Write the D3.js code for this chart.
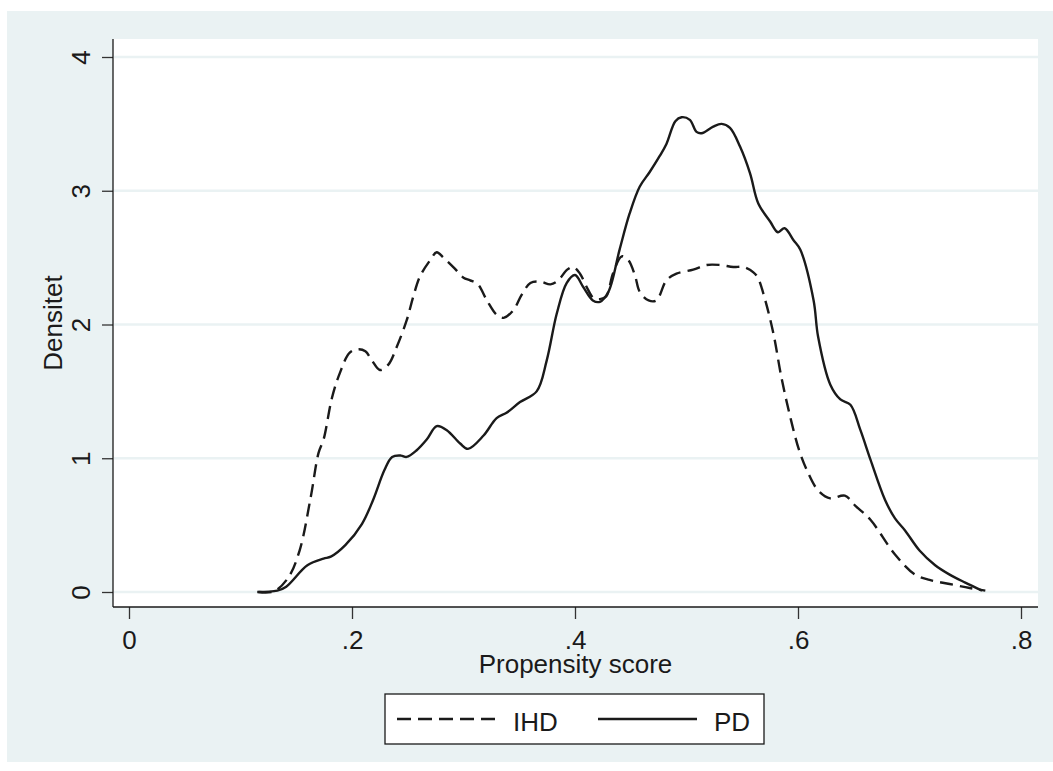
<!DOCTYPE html>
<html>
<head>
<meta charset="utf-8">
<script src="https://cdn.jsdelivr.net/npm/d3@7"></script>
<style>
  body { margin: 0; background: #fff; }
  svg { display: block; font-family: "Liberation Sans", Arial, sans-serif; }
</style>
</head>
<body>
<svg id="chart" width="1053" height="771"></svg>
<script>
// kernel density of propensity score
var ihdX = [0.116, 0.13, 0.143, 0.153, 0.163, 0.170, 0.1745, 0.182, 0.189, 0.198, 0.2057, 0.212, 0.218, 0.225, 0.2326, 0.240, 0.249, 0.255, 0.261, 0.270, 0.276, 0.282, 0.292, 0.300, 0.306, 0.313, 0.321, 0.330, 0.336, 0.345, 0.352, 0.360, 0.369, 0.378, 0.385, 0.393, 0.3985, 0.4045, 0.4105, 0.4164, 0.4224, 0.428, 0.434, 0.442, 0.448, 0.454, 0.458, 0.466, 0.473, 0.482, 0.491, 0.506, 0.518, 0.530, 0.542, 0.551, 0.560, 0.564, 0.570, 0.578, 0.585, 0.593, 0.601, 0.608, 0.618, 0.629, 0.642, 0.652, 0.665, 0.687, 0.705, 0.718, 0.736, 0.754, 0.768]
var ihdY = [0, 0.005, 0.11, 0.31, 0.71, 1.04, 1.14, 1.45, 1.635, 1.79, 1.815, 1.80, 1.73, 1.66, 1.70, 1.83, 2.03, 2.21, 2.36, 2.48, 2.54, 2.50, 2.42, 2.35, 2.33, 2.30, 2.18, 2.07, 2.05, 2.11, 2.22, 2.31, 2.32, 2.30, 2.33, 2.41, 2.43, 2.38, 2.28, 2.20, 2.19, 2.21, 2.38, 2.51, 2.48, 2.36, 2.245, 2.18, 2.18, 2.33, 2.38, 2.41, 2.445, 2.445, 2.43, 2.43, 2.39, 2.35, 2.20, 1.93, 1.61, 1.31, 1.06, 0.91, 0.76, 0.70, 0.72, 0.64, 0.54, 0.28, 0.13, 0.09, 0.06, 0.03, 0.01]
var pdX = [0.115, 0.133, 0.141, 0.160, 0.1745, 0.181, 0.194, 0.209, 0.219, 0.229, 0.236, 0.244, 0.249, 0.258, 0.267, 0.276, 0.285, 0.297, 0.304, 0.318, 0.3297, 0.3386, 0.3507, 0.3656, 0.3746, 0.3836, 0.3925, 0.400, 0.4074, 0.416, 0.4224, 0.430, 0.440, 0.449, 0.458, 0.467, 0.476, 0.482, 0.490, 0.4956, 0.503, 0.509, 0.5135, 0.524, 0.5315, 0.539, 0.548, 0.557, 0.5644, 0.575, 0.582, 0.588, 0.596, 0.602, 0.614, 0.618, 0.629, 0.638, 0.647, 0.656, 0.665, 0.678, 0.687, 0.696, 0.709, 0.723, 0.736, 0.750, 0.765]
var pdY = [0, 0.01, 0.04, 0.20, 0.25, 0.264, 0.35, 0.51, 0.69, 0.91, 1.01, 1.02, 1.01, 1.06, 1.14, 1.24, 1.21, 1.11, 1.07, 1.17, 1.30, 1.34, 1.42, 1.50, 1.73, 2.08, 2.31, 2.37, 2.28, 2.18, 2.17, 2.245, 2.56, 2.83, 3.03, 3.14, 3.26, 3.35, 3.52, 3.55, 3.53, 3.44, 3.43, 3.48, 3.50, 3.47, 3.33, 3.13, 2.905, 2.77, 2.69, 2.72, 2.63, 2.56, 2.18, 1.91, 1.55, 1.44, 1.40, 1.21, 0.99, 0.69, 0.55, 0.46, 0.31, 0.20, 0.13, 0.07, 0.01]

var xTicks = [0, 0.2, 0.4, 0.6, 0.8]
var yTicks = [0, 1, 2, 3, 4]
var seriesNames = ["IHD", "PD"]

var bg = "#eaf2f3",
    ink = "#1a1a1a",
    plot = {left: 113, right: 1038, top: 39, bottom: 607}

var svg = d3.select("#chart")

// outer graph region
svg.append("rect")
    .attr("x", 7).attr("y", 11)
    .attr("width", 1046).attr("height", 751)
    .attr("fill", bg)

svg.append("rect")
    .attr("x", plot.left).attr("y", plot.top)
    .attr("width", plot.right - plot.left).attr("height", plot.bottom - plot.top)
    .attr("fill", "#fff")

var x = d3.scaleLinear().domain([0, 0.8]).range([129, 1021])
var y = d3.scaleLinear().domain([0, 4]).range([592, 57])

// gridlines
svg.append("g")
    .selectAll("line")
    .data(yTicks)
    .join("line")
    .attr("x1", plot.left + 1).attr("x2", plot.right)
    .attr("y1", d => y(d)).attr("y2", d => y(d))
    .attr("stroke", bg)
    .attr("stroke-width", 2.5)

// Y axis
const yAxis = d3.axisLeft(y).tickValues(yTicks).tickSize(11).tickFormat(d3.format("d"))
const gY = svg.append("g")
    .attr("transform", "translate(" + plot.left + ",0)")
    .call(yAxis)
gY.select(".domain").remove()
gY.selectAll(".tick line").attr("stroke", "#333").attr("stroke-width", 1.3)
gY.selectAll(".tick text")
    .attr("x", null).attr("dy", null)
    .attr("transform", "translate(-23,0) rotate(-90)")
    .attr("text-anchor", "middle")
    .attr("font-size", 26)
    .attr("fill", ink)

// X axis
const xAxis = d3.axisBottom(x).tickValues(xTicks).tickSize(12)
    .tickFormat(d => d === 0 ? "0" : String(d).replace(/^0/, ""))
const gX = svg.append("g")
    .attr("transform", "translate(0," + plot.bottom + ")")
    .call(xAxis)
gX.select(".domain").remove()
gX.selectAll(".tick line").attr("stroke", "#333").attr("stroke-width", 1.3)
gX.selectAll(".tick text")
    .attr("y", 42).attr("dy", null)
    .attr("font-size", 26)
    .attr("fill", ink)

// axis lines
svg.append("line")
    .attr("x1", plot.left).attr("x2", plot.left)
    .attr("y1", plot.top).attr("y2", plot.bottom)
    .attr("stroke", ink).attr("stroke-width", 1.3)
svg.append("line")
    .attr("x1", plot.left).attr("x2", plot.right)
    .attr("y1", plot.bottom).attr("y2", plot.bottom)
    .attr("stroke", ink).attr("stroke-width", 1.3)

// axis titles
svg.append("text")
    .attr("transform", "translate(62," + (plot.top + plot.bottom) / 2 + ") rotate(-90)")
    .attr("text-anchor", "middle")
    .attr("font-size", 26)
    .attr("fill", ink)
    .text("Densitet")
svg.append("text")
    .attr("x", (plot.left + plot.right) / 2).attr("y", 673)
    .attr("text-anchor", "middle")
    .attr("font-size", 26)
    .attr("fill", ink)
    .text("Propensity score")

// density curves
const line = d3.line()
    .x(d => x(d[0]))
    .y(d => y(d[1]))
    .curve(d3.curveCatmullRom)

const series = [
    {name: seriesNames[0], pts: d3.zip(ihdX, ihdY), dash: "13,7"},
    {name: seriesNames[1], pts: d3.zip(pdX, pdY), dash: null}
]

svg.append("g")
    .selectAll("path")
    .data(series)
    .join("path")
    .attr("d", d => line(d.pts))
    .attr("fill", "none")
    .attr("stroke", ink)
    .attr("stroke-width", 2.4)
    .attr("stroke-dasharray", d => d.dash)
    .attr("stroke-linejoin", "round")

// legend
const lg = svg.append("g")
lg.append("rect")
    .attr("x", 385).attr("y", 694)
    .attr("width", 379).attr("height", 50)
    .attr("fill", "#fff")
    .attr("stroke", ink).attr("stroke-width", 1.3)

const legendItems = [
    {name: seriesNames[0], x1: 397, x2: 497, tx: 513, dash: "14,7"},
    {name: seriesNames[1], x1: 598, x2: 697, tx: 714, dash: null}
]
legendItems.forEach(function (d) {
    lg.append("line")
        .attr("x1", d.x1).attr("x2", d.x2)
        .attr("y1", 719).attr("y2", 719)
        .attr("stroke", ink).attr("stroke-width", 2.4)
        .attr("stroke-dasharray", d.dash)
    lg.append("text")
        .attr("x", d.tx).attr("y", 731)
        .attr("font-size", 26)
        .attr("fill", ink)
        .text(d.name)
})
</script>
</body>
</html>
